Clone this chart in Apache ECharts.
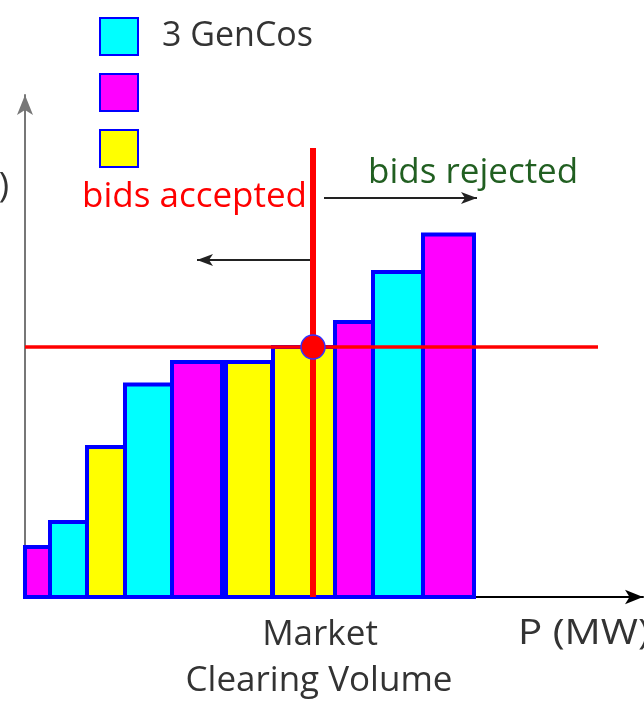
<!DOCTYPE html>
<html><head><meta charset="utf-8">
<script src="https://cdn.jsdelivr.net/npm/echarts/dist/echarts.min.js"></script>
<style>html,body{margin:0;padding:0;background:#fff}#c{width:644px;height:707px}</style>
</head><body><div id="c"></div>
<script>
// GenCos (legend) and their colours
const genCos = ['3 GenCos', 'GenCo 2', 'GenCo 3'];
const genColors = ['#00ffff', '#ff00ff', '#ffff00'];
// bid blocks in merit order
const bidOwner = [1, 0, 2, 0, 1, 2, 2, 1, 0, 1];
const bidFromMW = [0, 5, 12.4, 20, 29.4, 40.2, 49.6, 62, 69.6, 79.6];
const bidToMW = [5, 12.4, 20, 29.4, 39.4, 49.4, 62, 69.6, 79.6, 89.8];
const bidPrice = [10, 15, 30, 42.5, 47, 47, 50, 55, 65, 72.5];
// market clearing
const clearingMW = 57.6;
const clearingPrice = 50;
const priceLineEndMW = 114.6;
const volumeLineTop = 89.8;
// annotation arrows [fromMW, toMW, price]
const acceptedArrow = [57.6, 34.4, 67.4];
const rejectedArrow = [59.8, 90.4, 79.8];

const FONT = '"Open Sans", "Noto Sans", sans-serif';
const chart = echarts.init(document.getElementById('c'), null, {renderer: 'canvas'});

const barSeries = genCos.map(function (name, g) {
  const data = [];
  bidOwner.forEach(function (o, i) {
    if (o === g) data.push([bidFromMW[i], bidToMW[i], bidPrice[i]]);
  });
  return {
    type: 'custom', name: name, z: 2,
    itemStyle: {color: genColors[g], borderColor: '#0000ff', borderWidth: 2},
    encode: {x: [0, 1], y: 2},
    data: data,
    renderItem: function (params, api) {
      const p0 = api.coord([api.value(0), api.value(2)]);
      const p1 = api.coord([api.value(1), 0]);
      return {type: 'rect',
        shape: {x: p0[0], y: p0[1], width: p1[0] - p0[0], height: p1[1] - p0[1]},
        style: {fill: genColors[g], stroke: '#0000ff', lineWidth: 4}};
    }
  };
});

const option = {
  animation: false,
  backgroundColor: '#fff',
  grid: {left: 25, right: 1, top: 95, bottom: 110, containLabel: false},
  xAxis: {type: 'value', min: 0, max: 123.6,
    axisLine: {show: true, onZero: false, symbol: ['none', 'arrow'], symbolSize: [11, 18],
      lineStyle: {color: '#000', width: 2}},
    axisTick: {show: false}, axisLabel: {show: false}, splitLine: {show: false}},
  yAxis: {type: 'value', min: 0, max: 100.4,
    axisLine: {show: true, symbol: ['none', 'arrow'], symbolSize: [12, 20],
      lineStyle: {color: '#777', width: 2}},
    axisTick: {show: false}, axisLabel: {show: false}, splitLine: {show: false}},
  legend: {show: true, orient: 'vertical', left: 99, top: 17, padding: 0, itemWidth: 38, itemHeight: 37,
    itemGap: 17, icon: 'rect', selectedMode: false, data: genCos,
    itemStyle: {borderColor: '#0000ff', borderWidth: 2},
    formatter: function (n) { return n === genCos[0] ? n : ''; },
    textStyle: {fontFamily: FONT, fontSize: 34, color: '#333', padding: [0, 0, 0, 19]}},
  series: barSeries.concat([
    {type: 'line', name: 'price', z: 5, symbol: 'none', silent: true,
      lineStyle: {color: '#ff0000', width: 3.5},
      data: [[0, clearingPrice], [priceLineEndMW, clearingPrice]]},
    {type: 'line', name: 'volume', z: 6, symbol: 'none', silent: true,
      lineStyle: {color: '#ff0000', width: 6},
      data: [[clearingMW, 0], [clearingMW, volumeLineTop]]},
    {type: 'line', name: 'arrows', z: 6, data: [], silent: true,
      markLine: {silent: true, symbol: ['none', 'arrow'], symbolSize: [9, 16], label: {show: false},
        lineStyle: {color: '#222', width: 2, type: 'solid'},
        data: [
          [{coord: [acceptedArrow[0], acceptedArrow[2]]}, {coord: [acceptedArrow[1], acceptedArrow[2]]}],
          [{coord: [rejectedArrow[0], rejectedArrow[2]]}, {coord: [rejectedArrow[1], rejectedArrow[2]]}]
        ]}},
    {type: 'scatter', name: 'clearing', z: 10, symbolSize: 24, silent: true,
      itemStyle: {color: '#ff0000', borderColor: '#3333ff', borderWidth: 1.5, opacity: 1},
      data: [[clearingMW, clearingPrice]]}
  ]),
  graphic: [
    {type: 'text', x: 9, y: 187, style: {text: ')', font: '35px ' + FONT, fill: '#333', align: 'right', verticalAlign: 'middle'}},
    {type: 'text', x: 82, y: 197, z: 20, style: {text: 'bids accepted', font: '35px ' + FONT, fill: '#ff0000', align: 'left', verticalAlign: 'middle'}},
    {type: 'text', x: 368, y: 173, z: 20, style: {text: 'bids rejected', font: '35px ' + FONT, fill: '#215f21', align: 'left', verticalAlign: 'middle'}},
    {type: 'text', x: 320, y: 635, style: {text: 'Market', font: '35px ' + FONT, fill: '#333', align: 'center', verticalAlign: 'middle'}},
    {type: 'text', x: 319, y: 681, style: {text: 'Clearing Volume', font: '35px ' + FONT, fill: '#333', align: 'center', verticalAlign: 'middle'}},
    {type: 'text', x: 518, y: 634, scaleX: 1.15, style: {text: 'P (MW)', font: '35px ' + FONT, fill: '#333', align: 'left', verticalAlign: 'middle'}}
  ]
};
chart.setOption(option);
</script>
</body></html>
